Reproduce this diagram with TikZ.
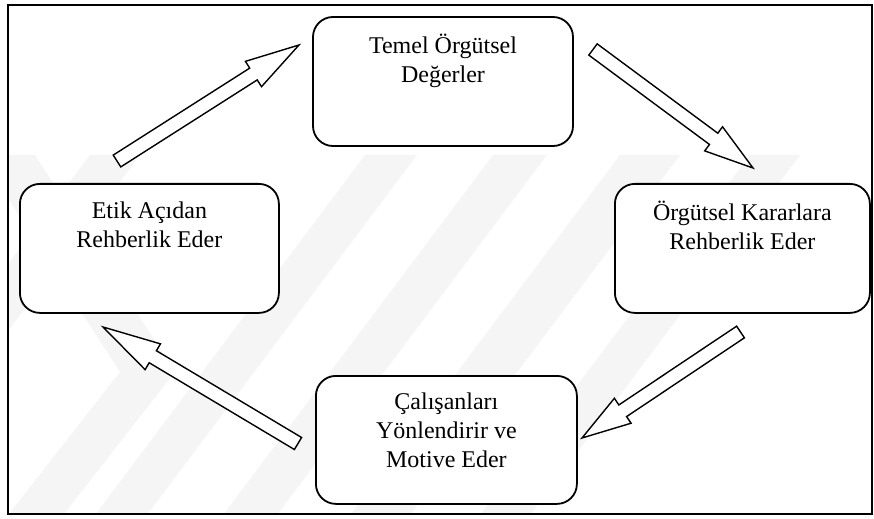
\documentclass[tikz,border=0pt]{standalone}
\usepackage{fontspec}
\setmainfont{Liberation Serif}
\usetikzlibrary{calc}

% Block arrow: #1 = tail centre, #2 = tip, #3 = head length
\newcommand{\blockarrow}[3]{%
  \coordinate (#1-hb) at ($(#2)!#3!(#1)$);
  \draw[hollowarrow]
    ($(#1)!3.5pt!90:(#2)$) -- ($(#1-hb)!3.5pt!90:(#2)$) --
    ($(#1-hb)!7.5pt!90:(#2)$) -- (#2) --
    ($(#1-hb)!7.5pt!-90:(#2)$) -- ($(#1-hb)!3.5pt!-90:(#2)$) --
    ($(#1)!3.5pt!-90:(#2)$) -- cycle;}

\tikzset{
  frameline/.style={draw=black, line width=1.1pt},
  stagebox/.style={draw=black, fill=white, line width=0.9pt, rounded corners=10pt,
                   rectangle, inner sep=0pt},
  stagetext/.style={anchor=north, align=center, inner sep=0pt,
                    font=\fontsize{12pt}{14.5pt}\selectfont,
                    execute at begin node={\rule{0pt}{10pt}}},
  hollowarrow/.style={draw=black, fill=white, line width=0.7pt, line join=miter},
  watermark/.style={fill=black!4, draw=none},
}

\begin{document}
\begin{tikzpicture}[x=0.5pt, y=-0.5pt]
\useasboundingbox (0,0) rectangle (874,519);

% faint background watermark stripes
\begin{scope}
  \clip (8,155) rectangle (872,514);
  \foreach \a/\b in {90/140, 365/417, 493/547, 620/680, 750/800}
    \fill[watermark] (\a,155) -- (\b,155) -- ({\b-273},519) -- ({\a-273},519) -- cycle;
  \fill[watermark] (-20,155) -- (35,155) -- (175,372) -- (60,519) -- (5,519) -- (120,372) -- cycle;
\end{scope}

% outer frame
\draw[frameline] (8,5) rectangle (872,514);

% stage boxes
\node[stagebox, minimum width=130pt, minimum height=64.5pt] (values) at (443,81.5) {};
\node[stagebox, minimum width=127.5pt, minimum height=64.5pt] (decisions) at (614,183) [anchor=north west] {};
\node[stagebox, minimum width=129.5pt, minimum height=64.5pt] (ethics) at (19,183) [anchor=north west] {};
\node[stagebox, minimum width=130.5pt, minimum height=64pt] (employees) at (315,375) [anchor=north west] {};

% box texts
\node[stagetext] (values-t) at ($(values.north)+(0,18)$) {Temel Örgütsel\\Değerler};
\node[stagetext] (decisions-t) at ($(decisions.north)+(0,18)$) {Örgütsel Kararlara\\Rehberlik Eder};
\node[stagetext] (ethics-t) at ($(ethics.north)+(0,18)$) {Etik Açıdan\\Rehberlik Eder};
\node[stagetext] (employees-t) at ($(employees.north)+(0,17)$) {Çalışanları\\Yönlendirir ve\\Motive Eder};

% arrow tails and tips
\coordinate (a1) at (117,161);   \coordinate (a1tip) at (299,45);
\coordinate (a2) at (593,49.5);  \coordinate (a2tip) at (753,168);
\coordinate (a3) at (740.5,332); \coordinate (a3tip) at (582,438);
\coordinate (a4) at (298,443.5); \coordinate (a4tip) at (103,327);

\blockarrow{a1}{a1tip}{27pt}
\blockarrow{a2}{a2tip}{24.5pt}
\blockarrow{a3}{a3tip}{24.5pt}
\blockarrow{a4}{a4tip}{29pt}
\end{tikzpicture}
\end{document}
